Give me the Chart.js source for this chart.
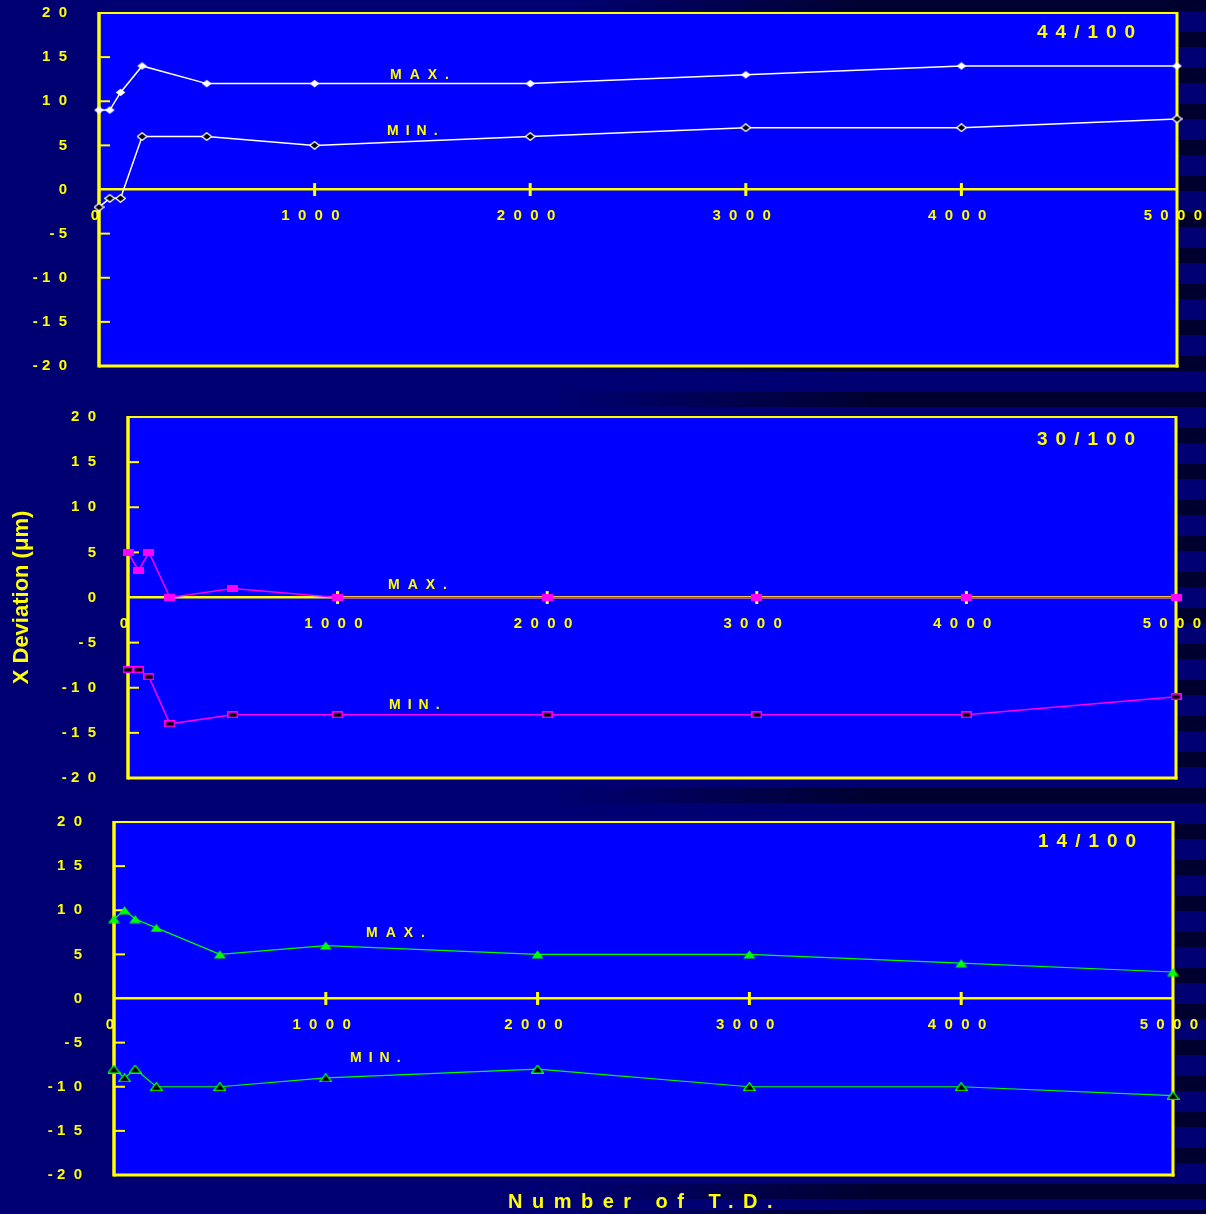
<!DOCTYPE html>
<html>
<head>
<meta charset="utf-8">
<script src="https://cdn.jsdelivr.net/npm/chart.js@4.4.1/dist/chart.umd.min.js"></script>
<style>
html,body{margin:0;padding:0;}
body{
  width:1206px;height:1214px;overflow:hidden;position:relative;
  background:
    linear-gradient(to right, #000072 0px, #000072 560px, rgba(0,0,114,0) 880px),
    repeating-linear-gradient(to bottom, #00002e 0px, #00002e 15px, #000072 15px, #000072 36px);
  background-position: 0 0, 0 -4px;
}
canvas{position:absolute;left:0;}
#xtitle{
  position:absolute;left:508px;top:1191px;
  font:bold 20px "Liberation Sans", Arial, sans-serif;
  letter-spacing:9.5px;line-height:20px;color:#ffff00;white-space:pre;
}
</style>
</head>
<body>
<canvas id="c1" width="1206" height="390" style="top:0px"></canvas>
<canvas id="c2" width="1206" height="395" style="top:395px"></canvas>
<canvas id="c3" width="1206" height="414" style="top:800px"></canvas>
<div id="xtitle">Number of T.D.</div>
<script>
// ---- data ----
const tdCounts = [0, 50, 100, 200, 500, 1000, 2000, 3000, 4000, 5000];
const max44 = [9, 9, 11, 14, 12, 12, 12, 13, 14, 14];
const min44 = [-2, -1, -1, 6, 6, 5, 6, 7, 7, 8];
const max30 = [5, 3, 5, 0, 1, 0, 0, 0, 0, 0];
const min30 = [-8, -8, -8.8, -14, -13, -13, -13, -13, -13, -11];
const max14 = [9, 10, 9, 8, 5, 6, 5, 5, 4, 3];
const min14 = [-8, -9, -8, -10, -10, -9, -8, -10, -10, -11];
const yTickValues = [-20, -15, -10, -5, 0, 5, 10, 15, 20];
const xTickValues = [0, 1000, 2000, 3000, 4000, 5000];
const panelTitles = ['44/100', '30/100', '14/100'];
const seriesNames = ['MAX.', 'MIN.'];
const yAxisTitle = 'X Deviation (\u03BCm)';

Chart.defaults.font.family = '"Liberation Sans", Arial, sans-serif';
const YEL = '#ffff00';

function spacedY(v) {
  const s = String(Math.abs(v)).split('').join('  ');
  return v < 0 ? '- ' + s : s;
}
function spacedX(v) {
  return String(v).split('').join('  ') + '  ';
}

function mk(w, h, draw) {
  const c = document.createElement('canvas');
  c.width = w; c.height = h;
  draw(c.getContext('2d'), w, h);
  return c;
}
function diamond(fill, stroke) {
  return mk(11, 9, (g, w, h) => {
    g.beginPath();
    g.moveTo(w / 2, 0.7); g.lineTo(w - 0.7, h / 2); g.lineTo(w / 2, h - 0.7); g.lineTo(0.7, h / 2);
    g.closePath(); g.fillStyle = fill; g.fill();
    if (stroke) { g.lineWidth = 1.3; g.strokeStyle = stroke; g.stroke(); }
  });
}
function rectMark(fill, stroke) {
  return mk(11, 7, (g, w, h) => {
    g.fillStyle = fill; g.fillRect(0, 0, w, h);
    if (stroke) { g.lineWidth = 1.6; g.strokeStyle = stroke; g.strokeRect(0.8, 0.8, w - 1.6, h - 1.6); }
  });
}
function triMark(fill, stroke) {
  return mk(13, 9, (g, w, h) => {
    g.beginPath();
    g.moveTo(w / 2, 0.6); g.lineTo(w - 0.6, h - 0.6); g.lineTo(0.6, h - 0.6); g.closePath();
    g.fillStyle = fill; g.fill();
    if (stroke) { g.lineWidth = 1.4; g.strokeStyle = stroke; g.stroke(); }
  });
}

const framePlugin = {
  id: 'frame',
  beforeDraw(chart) {
    const a = chart.chartArea, ctx = chart.ctx;
    ctx.save();
    ctx.fillStyle = '#0000ff';
    ctx.fillRect(a.left, a.top, a.right - a.left, a.bottom - a.top);
    ctx.restore();
  },
  beforeDatasetsDraw(chart) {
    const a = chart.chartArea, ctx = chart.ctx;
    const xs = chart.scales.x, ys = chart.scales.y;
    const y0 = ys.getPixelForValue(0);
    ctx.save();
    ctx.strokeStyle = YEL;
    // inner y tick marks
    ctx.lineWidth = 2;
    yTickValues.forEach(v => {
      if (v === 0 || Math.abs(v) === 20) return;
      const py = ys.getPixelForValue(v);
      ctx.beginPath(); ctx.moveTo(a.left, py); ctx.lineTo(a.left + 11, py); ctx.stroke();
    });
    // x tick marks crossing zero line
    ctx.lineWidth = 3;
    xTickValues.forEach(v => {
      if (v === 0 || v === 5000) return;
      const px = xs.getPixelForValue(v);
      ctx.beginPath(); ctx.moveTo(px, y0 - 6.5); ctx.lineTo(px, y0 + 6.5); ctx.stroke();
    });
    // frame
    ctx.lineWidth = 2;
    ctx.beginPath(); ctx.moveTo(a.left, a.top); ctx.lineTo(a.right, a.top); ctx.stroke();
    ctx.lineWidth = 3;
    ctx.beginPath(); ctx.moveTo(a.right, a.top - 1); ctx.lineTo(a.right, a.bottom + 1.5); ctx.stroke();
    ctx.beginPath(); ctx.moveTo(a.left, a.bottom); ctx.lineTo(a.right + 1.5, a.bottom); ctx.stroke();
    ctx.lineWidth = 3.5;
    ctx.beginPath(); ctx.moveTo(a.left, a.top - 1); ctx.lineTo(a.left, a.bottom + 1.5); ctx.stroke();
    ctx.restore();
  },
  afterDraw(chart) {
    const o = chart.options.plugins.frame, ctx = chart.ctx;
    if (!o) return;
    ctx.save();
    ctx.fillStyle = YEL;
    ctx.textBaseline = 'middle';
    ctx.textAlign = 'left';
    o.texts.forEach(t => {
      ctx.font = 'bold ' + t.size + 'px "Liberation Sans", Arial, sans-serif';
      if ('letterSpacing' in ctx) {
        ctx.letterSpacing = t.ls + 'px';
        ctx.fillText(t.text, t.x, t.y - o.offsetTop);
      } else {
        ctx.fillText(t.text.split('').join(' '), t.x, t.y - o.offsetTop);
      }
    });
    ctx.restore();
  }
};

function makePanel(id, p) {
  const ds = (vals, pt) => ({
    data: tdCounts.map((x, i) => ({x: x, y: vals[i]})),
    borderColor: p.color,
    borderWidth: p.lineWidth,
    pointStyle: pt,
    pointRadius: 5,
    pointHoverRadius: 5,
    clip: false,
    tension: 0,
    fill: false
  });
  return new Chart(document.getElementById(id), {
    type: 'line',
    data: { datasets: [ds(p.max, p.maxPt), ds(p.min, p.minPt)] },
    options: {
      responsive: false,
      animation: false,
      devicePixelRatio: 1,
      events: [],
      layout: { padding: { top: p.padTop, bottom: p.padBottom, left: 0, right: p.padRight } },
      plugins: {
        legend: { display: false },
        tooltip: { enabled: false },
        frame: { offsetTop: p.offsetTop, texts: p.texts }
      },
      scales: {
        x: {
          type: 'linear',
          position: { y: 0 },
          min: 0, max: 5000,
          afterBuildTicks: s => { s.ticks = xTickValues.map(v => ({ value: v })); },
          afterFit: s => { s.paddingLeft = 0; s.paddingRight = 0; },
          ticks: {
            autoSkip: false, maxRotation: 0, minRotation: 0,
            color: YEL, font: { size: 15, weight: 'bold' }, padding: 17,
            callback: v => spacedX(v)
          },
          grid: { display: false, drawTicks: false },
          border: { display: true, color: YEL, width: 2.5 }
        },
        y: {
          type: 'linear',
          position: 'left',
          min: -20, max: 20,
          afterBuildTicks: s => { s.ticks = yTickValues.map(v => ({ value: v })); },
          afterFit: s => { s.width = p.axisW; s.paddingTop = 0; s.paddingBottom = 0; },
          ticks: {
            autoSkip: false,
            color: YEL, font: { size: 15, weight: 'bold' }, padding: 32,
            callback: v => spacedY(v)
          },
          grid: { display: false, drawTicks: false },
          border: { display: false },
          title: p.yTitle ? {
            display: true, text: yAxisTitle, color: YEL,
            font: { size: 22, weight: 'bold' }, padding: { top: 9, bottom: 0 }
          } : { display: false }
        }
      }
    },
    plugins: [framePlugin]
  });
}

makePanel('c1', {
  max: max44, min: min44, color: '#ffffff', lineWidth: 1.5,
  maxPt: diamond('#ffffff'), minPt: diamond('#000000', '#ffffff'),
  padTop: 13, padBottom: 24, padRight: 29, axisW: 99, offsetTop: 0, yTitle: false,
  texts: [
    { text: panelTitles[0], x: 1037, y: 33, size: 19, ls: 8 },
    { text: seriesNames[0], x: 390, y: 75, size: 14, ls: 8 },
    { text: seriesNames[1], x: 387, y: 131, size: 14, ls: 7 }
  ]
});
makePanel('c2', {
  max: max30, min: min30, color: '#ff00ff', lineWidth: 1.5,
  maxPt: rectMark('#ff00ff'), minPt: rectMark('#000000', '#ff00ff'),
  padTop: 22, padBottom: 12, padRight: 30, axisW: 128, offsetTop: 395, yTitle: true,
  texts: [
    { text: panelTitles[1], x: 1037, y: 440, size: 19, ls: 8 },
    { text: seriesNames[0], x: 388, y: 585, size: 14, ls: 8 },
    { text: seriesNames[1], x: 389, y: 705, size: 14, ls: 7 }
  ]
});
makePanel('c3', {
  max: max14, min: min14, color: '#00ff00', lineWidth: 1.2,
  maxPt: triMark('#00ff00'), minPt: triMark('#000000', '#00ff00'),
  padTop: 22, padBottom: 39, padRight: 33, axisW: 114, offsetTop: 800, yTitle: false,
  texts: [
    { text: panelTitles[2], x: 1038, y: 842, size: 19, ls: 8 },
    { text: seriesNames[0], x: 366, y: 933, size: 14, ls: 8 },
    { text: seriesNames[1], x: 350, y: 1058, size: 14, ls: 7 }
  ]
});
</script>
</body>
</html>
